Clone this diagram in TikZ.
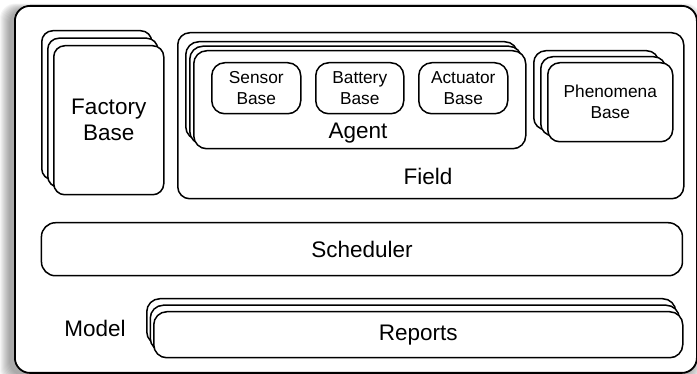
\documentclass[tikz,border=0pt]{standalone}
\usepackage{fontspec}
\setmainfont{Liberation Sans}
\begin{document}
\begin{tikzpicture}[x=1pt,y=-1pt,
  box/.style={draw=black, fill=white, line width=1.5pt, rounded corners=#1,
              inner sep=0pt, anchor=north west},
  box/.default=11pt,
  big/.style={font=\fontsize{22.5}{26}\selectfont, align=center, inner sep=0pt},
  small/.style={font=\fontsize{17.3}{21}\selectfont, align=center, inner sep=0pt}]
\useasboundingbox (0,0) rectangle (697,374);

% soft shadow of the model frame, falling to the lower left
\foreach \i in {0,...,9}
  \fill[black, opacity=0.04, rounded corners=15pt]
    (9-\i,9-0.6*\i) rectangle (692+\i,376+\i);

% model frame
\node[box=15pt, line width=1.8pt, minimum width=682pt, minimum height=367pt] (model) at (14,5) {};
\node[big] (modellbl) at (95,328) {Model};

% factory base (stacked)
\node[box, minimum width=110pt, minimum height=149pt] (fac3) at (41,30) {};
\node[box, minimum width=110pt, minimum height=149pt] (fac2) at (47,37.5) {};
\node[box, minimum width=110pt, minimum height=149pt] (fac1) at (53,45) {};
\node[big] (faclbl) at (fac1.center) {Factory\\Base};

% field
\node[box=12pt, minimum width=506pt, minimum height=166pt] (field) at (177,32) {};
\node[big] (fieldlbl) at (428,176) {Field};

% agent (stacked)
\node[box=13pt, minimum width=332pt, minimum height=98pt] (ag3) at (185,41) {};
\node[box=13pt, minimum width=332pt, minimum height=98pt] (ag2) at (189,45.5) {};
\node[box=13pt, minimum width=332pt, minimum height=98pt] (ag1) at (193,50) {};
\node[big] (aglbl) at (358,133.5) {Agent};

% agent parts
\node[box=13pt, minimum width=89pt, minimum height=51pt] (sensor) at (211,62) {};
\node[small] at (sensor.center) {Sensor\\Base};
\node[box=13pt, minimum width=88pt, minimum height=51pt] (battery) at (315,62) {};
\node[small] at (battery.center) {Battery\\Base};
\node[box=13pt, minimum width=89pt, minimum height=51pt] (actuator) at (418,62) {};
\node[small] at (actuator.center) {Actuator\\Base};

% phenomena base (stacked)
\node[box=12pt, minimum width=125pt, minimum height=79pt] (ph3) at (533,50) {};
\node[box=12pt, minimum width=125pt, minimum height=79pt] (ph2) at (540,56) {};
\node[box=12pt, minimum width=125pt, minimum height=79pt] (ph1) at (547,62) {};
\node[small] (phlbl) at (ph1.center) {Phenomena\\Base};

% scheduler
\node[box=14pt, minimum width=641pt, minimum height=53pt] (sched) at (40.7,222) {};
\node[big] (schedlbl) at (sched.center) {Scheduler};

% reports (stacked)
\node[box=13pt, minimum width=529pt, minimum height=46pt] (rep3) at (146,298) {};
\node[box=13pt, minimum width=529pt, minimum height=46pt] (rep2) at (149.5,304.5) {};
\node[box=13pt, minimum width=529pt, minimum height=46pt] (rep1) at (153,311) {};
\node[big] (replbl) at (rep1.center) {Reports};
\end{tikzpicture}
\end{document}
